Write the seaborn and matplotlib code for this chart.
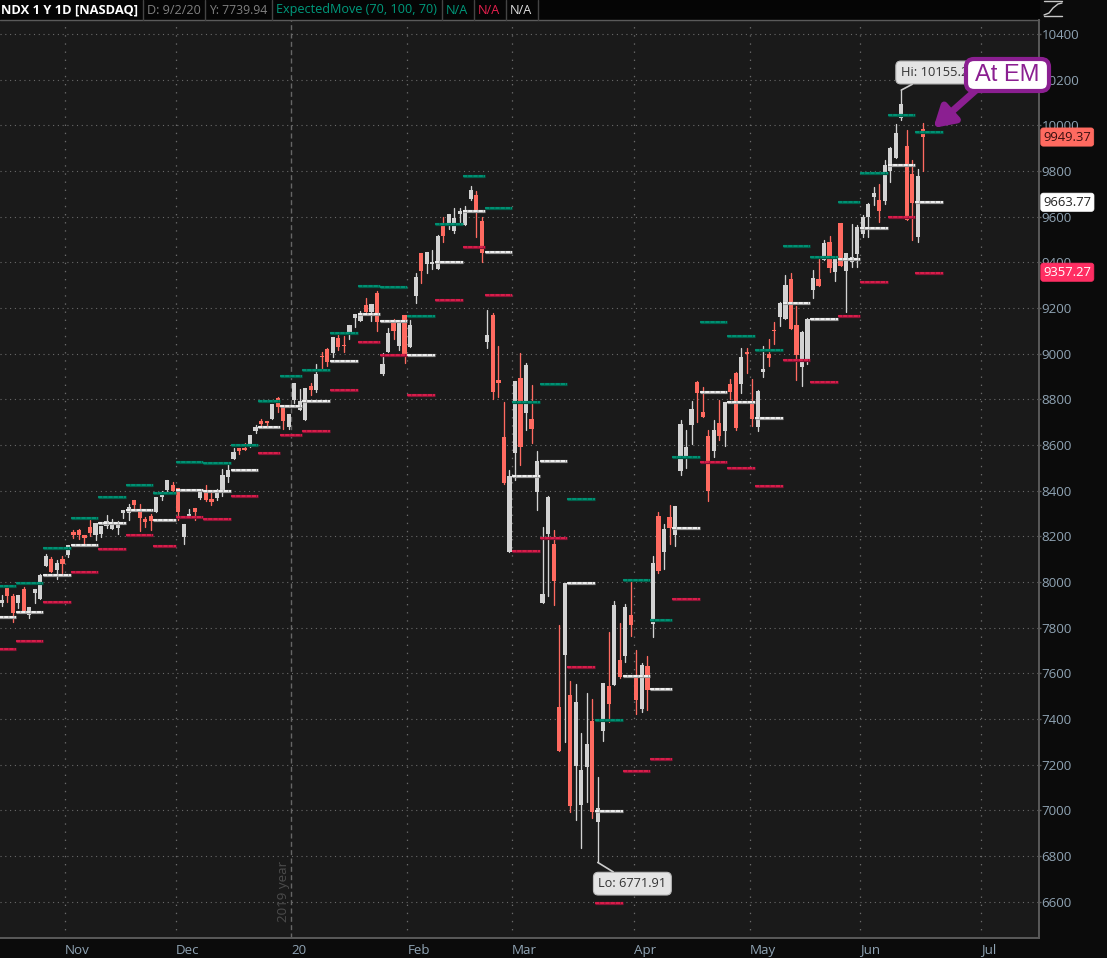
import numpy as np
import pandas as pd
import seaborn as sns
import matplotlib
matplotlib.use("Agg")
import matplotlib.pyplot as plt
from matplotlib.lines import Line2D
from matplotlib.patches import Rectangle, FancyBboxPatch
from matplotlib.transforms import IdentityTransform

# ---------- data ----------
opens = [7907,7980,7939,7907,7970,7856,7952,7926,8070,8101,
8053,8101,8119,8221,8228,8206,8241,8206,8211,8246,
8233,8237,8303,8303,8360,8311,8276,8290,8307,8373,
8403,8425,8412,8198,8290,8325,8368,8390,8364,8368,
8390,8460,8539,8587,8587,8592,8662,8705,8705,8714,
8806,8767,8679,8797,8754,8710,8859,8841,8990,9021,
9003,9069,9038,9086,9157,9143,9213,9183,9266,8911,
9008,9139,9034,9170,9030,9253,9441,9393,9393,9371,
9564,9564,9538,9612,9564,9678,9695,9581,9051,9169,
8885,8635,8131,8565,8893,8740,8714,8394,7908,8210,
8166,7453,7680,7505,7194,7023,7190,7391,6949,7347,
7544,7549,7658,7676,7856,7584,7444,7632,7816,8289,
8131,8285,8206,8486,8548,8688,8876,8745,8640,8574,
8697,8662,8867,8916,8867,9008,8789,8679,8920,9000,
9104,9161,9152,9327,9126,8942,8968,9279,9327,9410,
9489,9358,9572,9362,9402,9437,9524,9599,9686,9673,
9669,9800,9857,10032,9910,9787,9511,9984]
closes = [7922,7939,7866,7943,7873,7891,7970,8031,8114,8044,
8084,8079,8162,8206,8206,8193,8215,8259,8246,8268,
8263,8259,8316,8327,8338,8281,8263,8268,8373,8386,
8447,8399,8307,8254,8298,8307,8403,8360,8351,8403,
8469,8491,8570,8574,8579,8644,8679,8692,8697,8780,
8767,8705,8736,8872,8793,8850,8841,8911,8986,8964,
9073,9030,9034,9126,9174,9170,9183,9218,9139,8955,
9091,9100,9139,8995,9126,9336,9362,9446,9402,9516,
9516,9612,9595,9625,9630,9717,9621,9441,9082,8832,
8871,8433,8464,8880,8591,8950,8670,8530,7947,8372,
8004,7260,7996,7019,7474,7176,7290,6992,7010,7557,
7466,7899,7584,7890,7812,7483,7636,7527,8083,8048,
8232,8236,8333,8692,8592,8758,8828,8723,8399,8666,
8640,8789,8832,8675,8986,9000,8714,8837,8933,8981,
9100,9222,9301,9108,8994,9095,9152,9331,9297,9485,
9375,9415,9384,9441,9423,9555,9599,9656,9704,9625,
9827,9901,9967,10094,9586,9660,9778,9949]
highs = [7943,7980,7948,7943,7977,7891,7970,8035,8123,8110,
8095,8114,8162,8228,8234,8206,8272,8259,8246,8294,
8276,8268,8316,8342,8360,8342,8285,8298,8373,8399,
8447,8438,8412,8254,8320,8325,8403,8425,8395,8408,
8494,8517,8587,8587,8609,8644,8688,8714,8705,8780,
8811,8767,8736,8872,8846,8850,8872,8955,9008,9025,
9073,9082,9078,9126,9174,9187,9244,9218,9275,9003,
9113,9152,9139,9170,9148,9354,9441,9446,9454,9520,
9599,9612,9638,9638,9647,9735,9713,9599,9191,9178,
9034,8788,8490,8880,9003,8958,8863,8574,8241,8377,
8228,7812,7996,7566,7553,7337,7514,7487,7146,7557,
7781,7917,7820,7903,8009,7702,7645,7676,8114,8306,
8254,8337,8333,8710,8666,8793,8881,8854,8666,8710,
8797,8789,8889,8920,9025,9025,8889,8841,9034,9065,
9139,9227,9343,9352,9209,9100,9157,9367,9425,9498,
9516,9415,9572,9441,9568,9564,9607,9660,9730,9743,
9848,9905,10006,10155,9980,9848,9809,10010]
lows = [7897,7914,7827,7888,7870,7844,7910,7926,8070,8044,
8015,8041,8110,8195,8190,8158,8200,8184,8199,8238,
8233,8212,8281,8272,8316,8224,8243,8228,8307,8360,
8395,8399,8272,8167,8290,8272,8364,8355,8338,8360,
8377,8438,8539,8561,8579,8592,8653,8673,8679,8714,
8745,8670,8670,8784,8754,8710,8819,8832,8933,8946,
8986,9016,9008,9065,9117,9143,9183,9143,9100,8907,
9008,9065,9016,8959,9030,9222,9310,9354,9371,9371,
9489,9546,9529,9577,9564,9673,9511,9402,9025,8801,
8812,8429,8131,8447,8512,8666,8609,8315,7908,7939,
7899,7260,7301,6992,6957,6835,7036,6966,6772,7303,
7387,7549,7579,7649,7763,7422,7430,7439,7761,8039,
8057,8166,8158,8469,8501,8603,8702,8723,8355,8548,
8622,8596,8802,8666,8828,8916,8683,8662,8898,8946,
9043,9121,9152,9108,8885,8859,8955,9244,9297,9410,
9358,9319,9384,9181,9380,9380,9511,9511,9651,9577,
9656,9752,9857,10024,9586,9498,9489,9800]

week_edges = [-0.5,2.5,7.5,12.5,17.5,22.5,27.5,31.5,36.5,41.5,46.5,50.5,54.5,59.5,64.5,68.5,
73.5,78.5,83.5,87.5,92.5,97.5,102.5,107.5,112.5,117.5,121.5,126.5,131.5,136.5,141.5,146.5,
151.5,155.5,160.5,165.5,170.5]
em_upper = [7981,7995,8148,8279,8371,8424,8389,8525,8520,8599,8792,8901,8927,9089,9295,9291,9164,
9567,9778,9637,8787,8866,8362,7398,8007,7836,8550,9138,9076,9015,9472,9426,9663,9794,10048,9970]
em_mid = [7846,7868,8030,8161,8257,8314,8270,8402,8398,8490,8679,8770,8792,8967,9173,9142,8993,
9400,9624,9444,8463,8529,7994,6996,7587,7530,8239,8831,8787,8717,9221,9151,9415,9553,9825,9663]
em_lower = [7705,7741,7911,8043,8143,8205,8157,8284,8275,8376,8564,8643,8660,8840,9050,8993,8818,
9234,9466,9256,8134,8191,7630,6593,7171,7223,7924,8524,8498,8419,8971,8875,9164,9313,9597,9356]

month_labels = ["Nov","Dec","20","Feb","Mar","Apr","May","Jun","Jul"]
month_pos = [11.5,31.5,52.5,73.5,92.5,114.5,135.5,155.5,177.5]
price_ticks = list(range(6600,10401,200))

BG="#1a1a1a"; PANEL="#0b0b0b"; HEAD="#050505"; GREY="#d2d2d2"; RED="#ff6a60"
GREEN_L="#009a7c"; PINK="#e8204f"; AXC="#5a5a5a"; TICKC="#8fa3b3"

sns.set_theme(style="dark", rc={"axes.facecolor":BG,"figure.facecolor":PANEL})
plt.rcParams['font.family']=['Open Sans','DejaVu Sans']

W,H=1107,958
fig=plt.figure(figsize=(W/100,H/100),dpi=100)
ax=fig.add_axes([0,(H-938)/H,1039/W,(938-20)/H])
ax.set_xlim(-0.31,187.95)
ax.set_ylim(6441,10462)

# grid
for p in price_ticks:
    ax.axhline(p,color="#6a6a6a",lw=0.8,ls=(0,(1,3.3)),zorder=1)
for m,l in zip(month_pos,month_labels):
    if l=="20":
        ax.axvline(m,color="#666666",lw=1.0,ls=(0,(3.6,2.4)),zorder=1)
    else:
        ax.axvline(m,color="#6a6a6a",lw=0.9,ls=(0,(1.1,5.4)),zorder=1)

# candles
df=pd.DataFrame({"day":range(len(opens)),"open":opens,"close":closes,"high":highs,"low":lows})
df["dir"]=np.where(df.close<df.open,"down","up")
wicks=df.melt(id_vars=["day","dir"],value_vars=["high","low"],value_name="price")
sns.lineplot(data=wicks,x="day",y="price",hue="dir",units="day",estimator=None,
             palette={"up":GREY,"down":RED},lw=0.95,legend=False,ax=ax,zorder=3)
for d,c in (("up",GREY),("down",RED)):
    s=df[df.dir==d]
    ax.bar(s.day,(s.close-s.open).abs().clip(lower=4),bottom=s[["open","close"]].min(axis=1),
           width=0.76,color=c,lw=0,zorder=4)

# expected-move levels
rows=[]
for name,vals in (("upper",em_upper),("mid",em_mid),("lower",em_lower)):
    for w,v in enumerate(vals):
        rows.append((name,w,week_edges[w],v)); rows.append((name,w,week_edges[w+1],v))
em=pd.DataFrame(rows,columns=["level","week","x","price"])
for ln,colr in (("upper","#00604a"),("mid","#9a9a9a"),("lower","#8a1436")):
    s=em[em.level==ln]
    sns.lineplot(data=s,x="x",y="price",units="week",estimator=None,color=colr,lw=2.3,
                 legend=False,ax=ax,zorder=5,solid_capstyle="butt")
for ln,colr in (("upper",GREEN_L),("mid","#ffffff"),("lower",PINK)):
    s=em[em.level==ln]
    for w,g in s.groupby("week"):
        ax.plot(g.x,g.price,color=colr,lw=1.2,ls=(0,(2.6,0.5)),zorder=6,dash_capstyle="butt")

# axes
ax.set_xlabel(""); ax.set_ylabel("")
ax.yaxis.tick_right()
ax.set_yticks(price_ticks); ax.set_yticklabels([str(p) for p in price_ticks])
ax.set_xticks(month_pos); ax.set_xticklabels(month_labels,ha="left")
ax.tick_params(axis="y",colors=TICKC,labelsize=9.6,length=1.5,width=1,color=AXC,pad=0.4)
ax.tick_params(axis="x",colors=TICKC,labelsize=9.6,length=0,pad=4)
for s in ("left","top"):
    ax.spines[s].set_visible(False)
for s in ("right","bottom"):
    ax.spines[s].set_color(AXC); ax.spines[s].set_linewidth(1.4)

# header bar
fig.add_artist(Rectangle((0,(H-20)/H),1039/W,20/H,transform=fig.transFigure,color=HEAD,zorder=0))
fig.add_artist(Line2D([0,1039/W],[(H-20)/H]*2,color=AXC,lw=1))
def ht(x,t,c,size=9.1,**k):
    fig.text(x/W,(H-10)/H,t,color=c,fontsize=size,va="center",ha="left",**k)
ht(1,"NDX 1 Y 1D [NASDAQ]","#ffffff",size=9.3,fontweight="bold")
ht(147,"D: 9/2/20","#808080")
ht(209,"Y: 7739.94","#808080",size=8.8)
ht(276,"ExpectedMove (70, 100, 70)",GREEN_L)
ht(446,"N/A",GREEN_L)
ht(478,"N/A",PINK)
ht(510,"N/A","#e0e0e0")
for x in (143,205,272,442,474,506,538):
    fig.add_artist(Line2D([x/W,x/W],[(H-20)/H,1],color="#444444",lw=1))
# small study icon, top right
for yy in (1,16):
    fig.add_artist(Line2D([1044/W,1062/W],[(H-yy)/H]*2,color="#c8c8c8",lw=1))
fig.add_artist(Line2D(np.array([1044,1049,1053,1058,1062])/W,(H-np.array([15,13,8,4,3]))/H,color="#c8c8c8",lw=1))

# year marker
ax.text(51.0,6778,"2019 year",rotation=90,color="#4c4c4c",fontsize=9.6,ha="center",va="top",zorder=2)

# Hi / Lo callouts
ax.annotate("Hi: 10155.2",xy=(163,10155),xytext=(162.9,10232),color="#333333",fontsize=9.3,ha="left",va="center",zorder=8,
            bbox=dict(boxstyle="round,pad=0.38",fc="#e4e4e4",ec="#bbbbbb",lw=0.8),
            arrowprops=dict(arrowstyle="-",color="#cccccc",lw=1.2,shrinkA=0,shrinkB=0))
ax.annotate("Lo: 6771.91",xy=(108,6772),xytext=(108.1,6679),color="#333333",fontsize=9.2,ha="left",va="center",zorder=8,
            bbox=dict(boxstyle="round,pad=0.38",fc="#e4e4e4",ec="#bbbbbb",lw=0.8),
            arrowprops=dict(arrowstyle="-",color="#cccccc",lw=1.2,shrinkA=0,shrinkB=0))

# current-value flags at the right
for v,t,fc,tc in ((9949.37,"9949.37","#ff6a60","#3a1010"),(9663.77,"9663.77","#ffffff","#222222"),(9357.27,"9357.27","#ff2e63","#ffffff")):
    ax.text(1.0042,v,t,transform=ax.get_yaxis_transform(),color=tc,fontsize=9.4,va="center",ha="left",zorder=9,clip_on=False,
            bbox=dict(boxstyle="round,pad=0.2",fc=fc,ec=fc,lw=0.5))

# At EM callout
PUR="#8b1f91"
ax.annotate("",xy=(168.8,9989),xytext=(177.0,10165),zorder=10,annotation_clip=False,
            arrowprops=dict(arrowstyle="-|>,head_width=0.6,head_length=1.0",color=PUR,lw=5,shrinkA=0,shrinkB=0))
fig.add_artist(FancyBboxPatch((966,H-91),83,32,boxstyle="round,pad=0,rounding_size=8",
                              transform=IdentityTransform(),fc="#ffffff",ec=PUR,lw=3.0,zorder=20))
fig.text(1007.5/W,(H-75)/H,"At EM",color=PUR,fontsize=17,family="Liberation Sans",ha="center",va="center",zorder=21)

fig.savefig("out.png",dpi=100,facecolor=PANEL)
